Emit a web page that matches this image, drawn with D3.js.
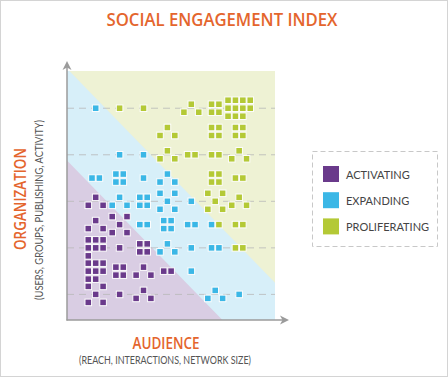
<!DOCTYPE html>
<html>
<head>
<meta charset="utf-8">
<script src="https://cdn.jsdelivr.net/npm/d3@7"></script>
<style>
  body { margin: 0; background: #fff; }
  text { font-family: Lato, "Open Sans", sans-serif; }
  .head { font-family: "Open Sans", Lato, sans-serif; font-weight: 600; }
</style>
</head>
<body>
<div id="chart"></div>
<script>
// Legend categories and their colours
const categories = ["ACTIVATING", "EXPANDING", "PROLIFERATING"];
const markColors = ["#6a3a8b", "#3bb7e6", "#b4c936"];
const bandColors = ["#d9cde3", "#d7eff9", "#eef2d4"];

// one entry per cluster: audience level, organization level,
// then number of squares for activating / expanding / proliferating
const audience     = [1,2,3,5,6,7, 4,6,7, 2,3,4,5,6,7, 1,2,3,4,6,7, 1,2,3,4,5,6,7, 1,2,3,4,5,6,7, 1,2,3,4,5,6,7, 1,2,3,4,5, 1,2,3,6,7];
const organization = [9,9,9,9,9,9, 8,8,8, 7,7,7,7,7,7, 6,6,6,6,6,6, 5,5,5,5,5,5,5, 4,4,4,4,4,4,4, 3,3,3,3,3,3,3, 2,2,2,2,2, 1,1,1,1,1];
const nActivating  = [0,0,0,0,0,0, 0,0,0, 0,0,0,0,0,0, 0,0,0,0,0,0, 3,0,0,0,0,0,0, 3,5,0,0,0,0,0, 7,1,4,0,0,0,0, 8,4,3,2,0, 5,1,3,0,0];
const nExpanding   = [1,0,0,0,0,0, 0,0,0, 1,1,0,0,0,0, 2,4,1,3,0,0, 0,3,4,5,1,0,0, 0,0,2,4,2,1,0, 0,0,0,3,1,2,0, 0,0,0,0,1, 0,0,0,3,1];
const nProlif      = [0,1,1,3,4,11, 3,4,4, 0,0,3,2,2,3, 0,0,0,0,4,2, 0,0,0,0,0,5,3, 0,0,0,0,0,1,2, 0,0,0,0,0,0,2, 0,0,0,0,0, 0,0,0,0,0];

const gridLevels = [1, 3, 5, 7, 9];

const W = 448, H = 377;
const svg = d3.select("#chart").append("svg")
    .attr("width", W).attr("height", H);

// outer frame
svg.append("rect")
    .attr("x", 0.5).attr("y", 0.5).attr("width", W - 1).attr("height", H - 1)
    .attr("fill", "#fff").attr("stroke", "#d4d4d4");

// scales
const x = d3.scaleLinear().domain([-0.2, 8.5]).range([67, 275]);
const y = d3.scaleLinear().domain([-0.1, 10.6]).range([320, 71]);
const xMin = -0.2, xMax = 8.5, yMin = -0.1, yMax = 10.6;

// background bands
const line = d3.line().x(d => x(d[0])).y(d => y(d[1]));
svg.append("path") // middle (expanding) fills whole area
    .attr("d", line([[xMin, yMin], [xMin, yMax], [xMax, yMax], [xMax, yMin]]) + "Z")
    .attr("fill", bandColors[1]);
svg.append("path")
    .attr("d", line([[xMin + 0.1, yMax], [xMax, yMax], [xMax, 1.5]]) + "Z")
    .attr("fill", bandColors[2]);
svg.append("path")
    .attr("d", line([[xMin, 6.75], [6.3, yMin], [xMin, yMin]]) + "Z")
    .attr("fill", bandColors[0]);

// dashed gridlines
svg.selectAll(".grid").data(gridLevels).enter().append("line")
    .attr("x1", x(xMin)).attr("x2", x(xMax))
    .attr("y1", d => y(d)).attr("y2", d => y(d))
    .attr("stroke", "#b9b9b9").attr("stroke-width", 1)
    .attr("stroke-dasharray", "7,5").attr("opacity", 0.8);

// square offsets inside a cluster, in units of one square
const glyph = n => {
    if (n === 1) return [[0, 0]];
    if (n === 2) return [[-0.5, 0], [0.5, 0]];
    if (n === 3) return [[0, -0.5], [-1, 0.5], [1, 0.5]];
    if (n === 4) return [[-0.5, -0.5], [0.5, -0.5], [-0.5, 0.5], [0.5, 0.5]];
    if (n === 5) return [[-1, -1], [1, -1], [0, 0], [-1, 1], [1, 1]];
    const cols = n > 9 ? 4 : 3, rows = Math.ceil(n / cols);
    return d3.range(n).map(i => [i % cols - (cols - 1) / 2, Math.floor(i / cols) - (rows - 1) / 2]);
};

const squares = [];
audience.forEach((a, i) => {
    const cats = [];
    [nActivating[i], nExpanding[i], nProlif[i]].forEach((n, c) => { for (let k = 0; k < n; k++) cats.push(c); });
    glyph(cats.length).forEach((o, k) => squares.push({ a, o: organization[i], dx: o[0], dy: o[1], cat: cats[k] }));
});

const stepX = 7.4, stepY = 8, size = 6.6;
svg.selectAll(".sq").data(squares).enter().append("rect")
    .attr("x", d => x(d.a) + d.dx * stepX - size / 2)
    .attr("y", d => y(d.o) + d.dy * stepY - size / 2)
    .attr("width", size).attr("height", size)
    .attr("fill", d => markColors[d.cat])
    .attr("stroke", "#fdfdfd").attr("stroke-width", 1);

// axes with arrow heads
const axisColor = "#9b9b9b";
svg.append("line").attr("x1", 67).attr("x2", 67).attr("y1", 320.5).attr("y2", 63)
    .attr("stroke", axisColor).attr("stroke-width", 1.5);
svg.append("line").attr("x1", 66.5).attr("x2", 287).attr("y1", 320).attr("y2", 320)
    .attr("stroke", axisColor).attr("stroke-width", 1.5);
svg.append("path").attr("d", "M67,61 L71.5,70 L67,67.5 L62.5,70 Z").attr("fill", axisColor);
svg.append("path").attr("d", "M289,320 L280,315.5 L282.5,320 L280,324.5 Z").attr("fill", axisColor);

// titles
const orange = "#e4652d";
svg.append("text").attr("class", "head").attr("x", 222).attr("y", 26).attr("text-anchor", "middle")
    .attr("font-size", 17.5).attr("fill", orange)
    .attr("textLength", 231).attr("lengthAdjust", "spacingAndGlyphs")
    .text("SOCIAL ENGAGEMENT INDEX");
svg.append("text").attr("class", "head").attr("x", 166).attr("y", 348.5).attr("text-anchor", "middle")
    .attr("font-size", 16).attr("fill", orange)
    .attr("textLength", 67).attr("lengthAdjust", "spacingAndGlyphs")
    .text("AUDIENCE");
svg.append("text").attr("x", 165).attr("y", 364).attr("text-anchor", "middle")
    .attr("font-size", 11).attr("fill", "#555")
    .attr("textLength", 172).attr("lengthAdjust", "spacingAndGlyphs")
    .text("(REACH, INTERACTIONS, NETWORK SIZE)");
svg.append("text").attr("class", "head").attr("transform", "translate(26,199) rotate(-90)").attr("text-anchor", "middle")
    .attr("font-size", 16).attr("fill", orange)
    .attr("textLength", 102).attr("lengthAdjust", "spacingAndGlyphs")
    .text("ORGANIZATION");
svg.append("text").attr("transform", "translate(43,210) rotate(-90)").attr("text-anchor", "middle")
    .attr("font-size", 11).attr("fill", "#555")
    .attr("textLength", 180).attr("lengthAdjust", "spacingAndGlyphs")
    .text("(USERS, GROUPS, PUBLISHING, ACTIVITY)");

// legend
const legend = svg.append("g");
legend.append("rect").attr("x", 312.5).attr("y", 151.5).attr("width", 125).attr("height", 95)
    .attr("fill", "none").attr("stroke", "#c8c8c8").attr("stroke-dasharray", "5,3");
const items = legend.selectAll(".item").data(categories).enter().append("g")
    .attr("transform", (d, i) => `translate(323,${166 + i * 26.2})`);
items.append("rect").attr("width", 16).attr("height", 16)
    .attr("fill", (d, i) => markColors[i]);
items.append("text").attr("x", 23).attr("y", 12.5)
    .attr("font-size", 11).attr("fill", "#444")
    .text(d => d);
</script>
</body>
</html>
